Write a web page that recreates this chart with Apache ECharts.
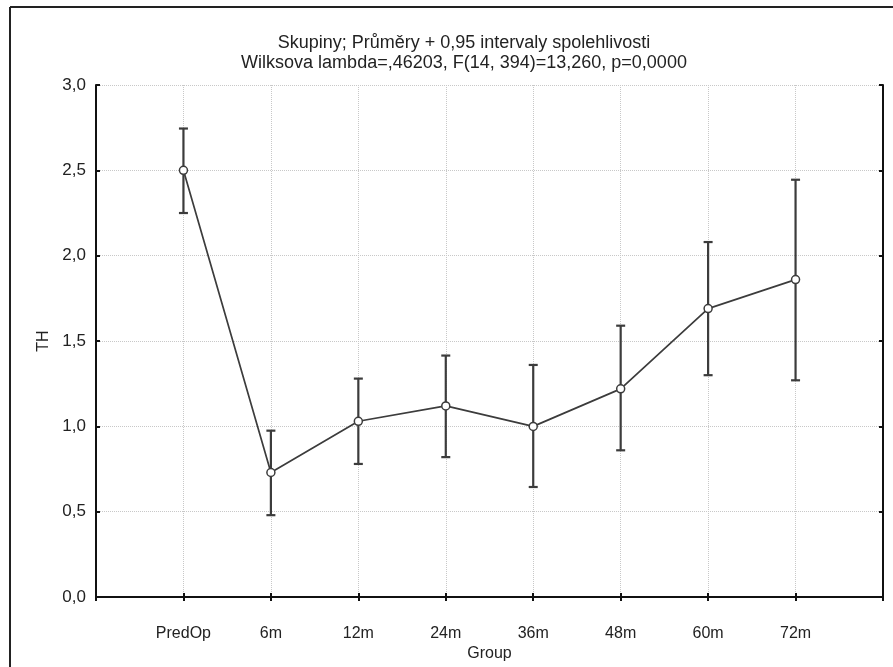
<!DOCTYPE html>
<html>
<head>
<meta charset="utf-8">
<script src="https://cdn.jsdelivr.net/npm/echarts@6/dist/echarts.min.js"></script>
<style>html,body{margin:0;padding:0;background:#fff}#c{width:893px;height:667px}</style>
</head>
<body>
<div id="c"></div>
<script>
var groups = ['PredOp', '6m', '12m', '24m', '36m', '48m', '60m', '72m'];
var means  = [2.50, 0.73, 1.03, 1.12, 1.00, 1.22, 1.69, 1.86];
var lower  = [2.25, 0.48, 0.78, 0.82, 0.645, 0.86, 1.30, 1.27];
var upper  = [2.745, 0.975, 1.28, 1.415, 1.36, 1.59, 2.08, 2.445];
var yTicks = [0, 0.5, 1.0, 1.5, 2.0, 2.5, 3.0];
var titleLine1 = 'Skupiny; Průměry + 0,95 intervaly spolehlivosti';
var titleLine2 = 'Wilksova lambda=,46203, F(14, 394)=13,260, p=0,0000';

var cats = [''].concat(groups).concat(['']);
var FONT = "'Liberation Sans', Arial, sans-serif";
var DARK = '#3c3c3c';

var chart = echarts.init(document.getElementById('c'));
var lineData = means.map(function (m, i) { return [i + 1, m]; });
var errData = means.map(function (m, i) { return [i + 1, lower[i], upper[i]]; });

var fmt = function (v) { return Number(v).toFixed(1).replace('.', ','); };

chart.setOption({
  animation: false,
  backgroundColor: '#fff',
  title: {
    text: titleLine1 + '\n' + titleLine2,
    left: 459,
    top: 28,
    textAlign: 'center',
    textStyle: { fontFamily: FONT, fontSize: 18, fontWeight: 'normal', color: '#222', lineHeight: 20 }
  },
  graphic: [
    { type: 'line', shape: { x1: 10, y1: 7, x2: 10, y2: 667 }, style: { stroke: '#222', lineWidth: 2 } },
    { type: 'line', shape: { x1: 10, y1: 7, x2: 893, y2: 7 }, style: { stroke: '#222', lineWidth: 2 } }
  ],
  grid: { left: 96, right: 10, top: 85, bottom: 67 },
  xAxis: [{
    type: 'category', data: cats, boundaryGap: false,
    name: 'Group', nameLocation: 'middle', nameGap: 47,
    nameTextStyle: { fontFamily: FONT, fontSize: 16, color: '#222' },
    axisLine: { lineStyle: { color: '#111', width: 2 } },
    axisTick: { inside: true, length: 4, lineStyle: { color: '#111', width: 2 } },
    axisLabel: { fontFamily: FONT, fontSize: 16, color: '#222', margin: 28, interval: 0 },
    splitLine: { show: true, lineStyle: { color: '#c8c8c8', type: 'dotted', width: 1 } }
  }, {
    type: 'category', data: cats, boundaryGap: false, position: 'top',
    axisLine: { lineStyle: { color: '#111', width: 2 } },
    axisTick: { inside: true, length: 4, lineStyle: { color: '#111', width: 2 } },
    axisLabel: { show: false }, splitLine: { show: false }
  }],
  yAxis: [{
    type: 'value', min: 0, max: 3, interval: 0.5,
    name: 'TH', nameLocation: 'middle', nameGap: 44,
    nameTextStyle: { fontFamily: FONT, fontSize: 16, color: '#222' },
    axisLine: { show: true, lineStyle: { color: '#111', width: 2 } },
    axisTick: { show: true, inside: true, length: 4, lineStyle: { color: '#111', width: 2 } },
    axisLabel: { fontFamily: FONT, fontSize: 17, color: '#222', margin: 10, formatter: fmt },
    splitLine: { show: true, lineStyle: { color: '#c8c8c8', type: 'dotted', width: 1 } }
  }, {
    type: 'value', min: 0, max: 3, interval: 0.5, position: 'right',
    axisLine: { show: true, lineStyle: { color: '#111', width: 2 } },
    axisTick: { show: true, inside: true, length: 4, lineStyle: { color: '#111', width: 2 } },
    axisLabel: { show: false }, splitLine: { show: false }
  }],
  series: [{
    type: 'custom',
    data: errData,
    encode: { x: 0, y: [1, 2] },
    z: 3,
    renderItem: function (params, api) {
      var x = api.value(0);
      var lo = api.coord([x, api.value(1)]);
      var hi = api.coord([x, api.value(2)]);
      var w = 4.5;
      var st = { stroke: DARK, lineWidth: 2.2, fill: null };
      return {
        type: 'group',
        children: [
          { type: 'line', shape: { x1: lo[0], y1: lo[1], x2: hi[0], y2: hi[1] }, style: st },
          { type: 'line', shape: { x1: lo[0] - w, y1: lo[1], x2: lo[0] + w, y2: lo[1] }, style: st },
          { type: 'line', shape: { x1: hi[0] - w, y1: hi[1], x2: hi[0] + w, y2: hi[1] }, style: st }
        ]
      };
    }
  }, {
    type: 'line',
    data: lineData,
    z: 4,
    symbol: 'circle', symbolSize: 8,
    lineStyle: { color: DARK, width: 1.7 },
    itemStyle: { color: '#fff', borderColor: DARK, borderWidth: 1.5 }
  }]
});
</script>
</body>
</html>
